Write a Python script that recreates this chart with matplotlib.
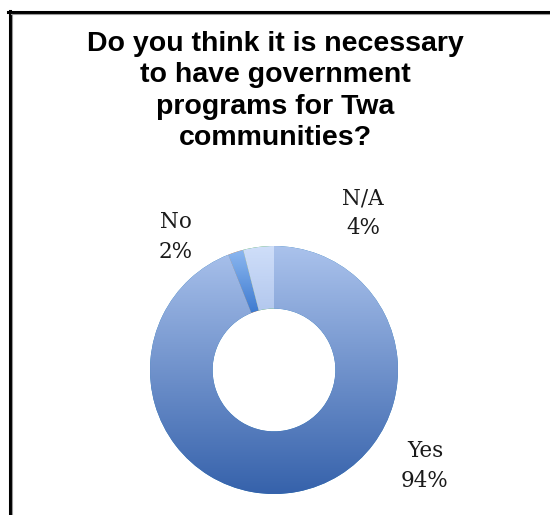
import numpy as np
import matplotlib.pyplot as plt
from matplotlib.colors import LinearSegmentedColormap
from matplotlib.lines import Line2D

title = 'Do you think it is necessary\nto have government\nprograms for Twa\ncommunities?'
answers = ['Yes', 'No', 'N/A']
shares = [94, 2, 4]

# light (top) and dark (bottom) shade of each slice
shade_top = ['#aac2ec', '#8db8f0', '#cfdef9']
shade_bottom = ['#3662ab', '#3d7ad0', '#b3c8ee']

# label anchor points, pixels from the top-left corner
label_px = [(425, 466), (176, 237), (363, 213)]

W, H = 550, 515
fig = plt.figure(figsize=(W / 100, H / 100), dpi=100)
ax = fig.add_axes([0, 0, 1, 1])

cx, cy, R = 274, H - 370, 124
wedges, _ = ax.pie(shares, center=(cx, cy), radius=R, startangle=90,
                   counterclock=False,
                   wedgeprops=dict(width=R * 0.505, edgecolor='none'))

# vertical gradient fill, clipped to each wedge
grad = np.linspace(0, 1, 256).reshape(-1, 1)
for w, top, bot in zip(wedges, shade_top, shade_bottom):
    bb = w.get_path().get_extents()
    cmap = LinearSegmentedColormap.from_list('shade', [bot, top])
    im = ax.imshow(grad, cmap=cmap, origin='lower', aspect='auto',
                   extent=(bb.x0, bb.x1, bb.y0, bb.y1),
                   interpolation='bicubic', zorder=w.get_zorder() + 0.1)
    im.set_clip_path(w)

ax.set_xlim(0, W)
ax.set_ylim(0, H)
ax.set_aspect('equal')
ax.axis('off')

for name, val, (px, py) in zip(answers, shares, label_px):
    ax.text(px, H - py, f'{name}\n{val}%', ha='center', va='center',
            fontsize=15.5, family='DejaVu Serif', color='#1a1a1a',
            linespacing=1.45)

fig.text(275 / W, 1 - 31 / H, title, ha='center', va='top', fontsize=20.5,
         fontweight='bold', family='Liberation Sans', linespacing=1.27)

# frame: dark line on top and left with a grey inner edge
fig.add_artist(Line2D([8 / W, 1], [1 - 12 / H] * 2, transform=fig.transFigure,
                      color='black', lw=2.2))
fig.add_artist(Line2D([9.5 / W] * 2, [0, 1 - 11 / H], transform=fig.transFigure,
                      color='black', lw=2.2))
fig.add_artist(Line2D([11 / W, 1], [1 - 14.5 / H] * 2, transform=fig.transFigure,
                      color='#9a9a9a', lw=0.8))
fig.add_artist(Line2D([12 / W] * 2, [0, 1 - 14 / H], transform=fig.transFigure,
                      color='#9a9a9a', lw=0.8))

fig.savefig('out.png', dpi=100)
